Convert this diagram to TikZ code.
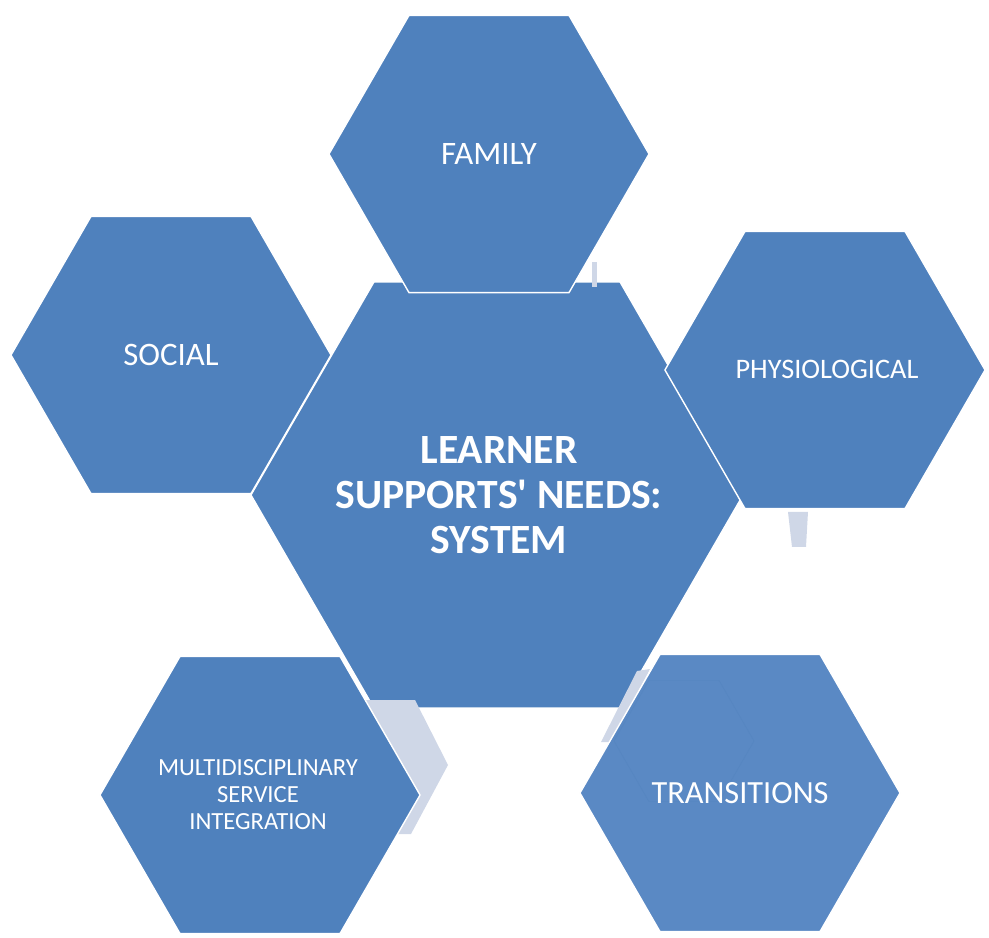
\documentclass[tikz,border=0pt]{standalone}
\usepackage{fontspec}
\setmainfont{Carlito}
\usetikzlibrary{shapes.geometric}

\definecolor{hexblue}{HTML}{4F81BD}
\definecolor{hexlight}{HTML}{5A89C4}
\definecolor{hexpale}{HTML}{CFD7E7}

\begin{document}
\begin{tikzpicture}[x=0.025cm,y=-0.025cm,
  hx/.style={regular polygon,regular polygon sides=6,fill=hexblue,draw=white,line width=1pt,
    minimum size=8cm,inner sep=0pt},
  hxc/.style={hx,minimum size=12.3cm},
  lab/.style={text=white,align=center,inner sep=0pt,font=\fontsize{23.3}{28}\selectfont},
  gs/.style={fill=hexpale,draw=none}]
  \useasboundingbox (0,0) rectangle (989,938);
  % ---------- centre ----------
  \node[hxc] (sys) at (497,495) {};
  \node[lab,font=\bfseries\fontsize{29.6}{32}\selectfont] (syslab) at (499,495) {LEARNER\\SUPPORTS\textquotesingle{} NEEDS:\\SYSTEM};
  % ---------- pale remnants of the connectors ----------
  \fill[gs] (366,700) -- (415,700) -- (448,765) -- (411,834) -- (385,834) -- cycle;
  \fill[gs] (788,512) -- (808,512) -- (806,547) -- (792,547) -- cycle;
  \fill[gs] (592,262) -- (597,262) -- (597,287) -- (592,287) -- cycle;
  \fill[gs] (637,671) -- (650,669) -- (612,742) -- (601,742) -- cycle;
  % ---------- satellites ----------
  \node[hx] (soc) at (171,355) {};
  \node[lab] (soclab) at (soc) {SOCIAL};
  \node[hx] (fam) at (489,154) {};
  \node[lab] (famlab) at (fam) {FAMILY};
  \node[hx] (phy) at (825,370) {};
  \node[lab,font=\fontsize{20.1}{24}\selectfont] (phylab) at (827,369) {PHYSIOLOGICAL};
  \node[hx] (mul) at (260,795) {};
  \node[lab,font=\fontsize{17.5}{19.2}\selectfont] (mullab) at (258,795) {MULTIDISCIPLINARY\\SERVICE\\INTEGRATION};
  \node[hx,fill=hexlight] (tra) at (740,793) {};
  \node[regular polygon,regular polygon sides=6,minimum size=3.5cm,draw=hexblue!40!hexlight,line width=0.5pt] (trb) at (684,741) {};
  \node[lab,font=\fontsize{23}{28}\selectfont] (tralab) at (tra) {TRANSITIONS};
\end{tikzpicture}
\end{document}
